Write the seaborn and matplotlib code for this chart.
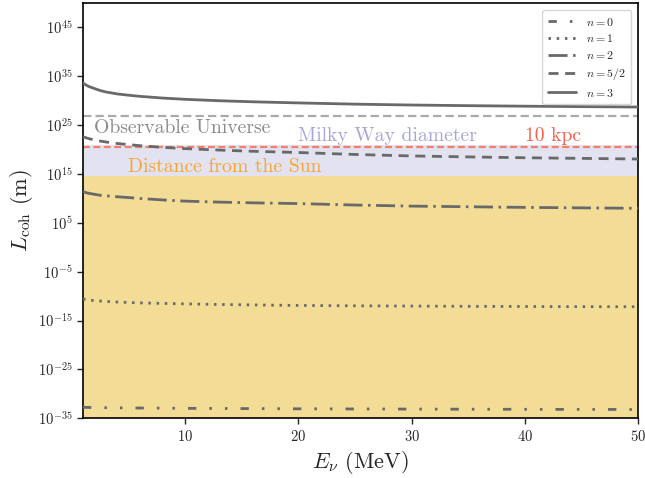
import numpy as np
import pandas as pd
import matplotlib
matplotlib.use("Agg")
import matplotlib.pyplot as plt
import matplotlib.ticker as mticker
import seaborn as sns

# ---- data ----
E_nu = [1, 1.25, 1.5, 2, 2.5, 3, 4, 5, 6, 8, 10, 13, 16, 20, 25, 30, 35, 40, 45, 50]   # MeV
log_L_n0 = [-32.75, -32.76, -32.77, -32.8, -32.81, -32.83, -32.86, -32.88, -32.9, -32.93, -32.96,
            -32.99, -33.02, -33.06, -33.09, -33.12, -33.14, -33.16, -33.18, -33.2]
log_L_n1 = [-10.6, -10.7, -10.8, -10.9, -11.0, -11.07, -11.2, -11.3, -11.38, -11.48, -11.58,
            -11.7, -11.8, -11.9, -11.98, -12.03, -12.08, -12.12, -12.15, -12.17]
log_L_n2 = [11.4, 11.2, 11.05, 10.85, 10.65, 10.55, 10.35, 10.18, 10.0, 9.7, 9.45,
            9.25, 9.1, 8.95, 8.65, 8.43, 8.3, 8.17, 8.07, 7.98]
log_L_n52 = [22.63, 22.43, 22.25, 21.97, 21.75, 21.56, 21.25, 21.03, 20.8, 20.46, 20.2,
             19.9, 19.65, 19.4, 19.0, 18.7, 18.5, 18.33, 18.2, 18.07]
log_L_n3 = [33.62, 33.24, 32.93, 32.5, 32.1, 31.8, 31.4, 31.13, 30.9, 30.55, 30.29,
            30.0, 29.78, 29.55, 29.3, 29.12, 28.99, 28.88, 28.79, 28.71]
series_labels = [r"$n=0$", r"$n=1$", r"$n=2$", r"$n=5/2$", r"$n=3$"]

L_observable = 8.8e26     # m
L_milky_way = 9.5e20      # m
L_10kpc = 3.086e20        # m
L_sun_region = 4e14       # m
y_ticks = [1e-35, 1e-25, 1e-15, 1e-5, 1e5, 1e15, 1e25, 1e35, 1e45]
x_ticks = [10, 20, 30, 40, 50]

# ---- style ----
sns.set_style("ticks")
plt.rcParams["font.family"] = ["cmr10", "DejaVu Serif"]
plt.rcParams["mathtext.fontset"] = "cm"
plt.rcParams["axes.formatter.use_mathtext"] = True
plt.rcParams["lines.scale_dashes"] = False

fig = plt.figure(figsize=(6.45, 4.78), dpi=100)
ax = fig.add_axes([0.1287, 0.1249, 0.9898 - 0.1287, 0.9937 - 0.1249])

xlo, xhi = 1, 50
# bands
ax.fill_between([xlo, xhi], 1e-35, L_sun_region, color="#f2dc96", lw=0, zorder=0)
ax.fill_between([xlo, xhi], L_sun_region, L_milky_way, color="#e2e2f0", lw=0, zorder=0)
ax.axhline(L_observable, color="#aaaaaa", lw=1.6, linestyle=(0, (6, 3)), zorder=1)
ax.axhline(L_10kpc, color="#f4806c", lw=1.6, linestyle=(0, (5, 2.5)), zorder=1)

gray = "#696969"
styles = [
    (0, (6, 9.4, 1.8, 9.4, 1.8, 9.4)),
    (0, (1.8, 4.1)),
    (0, (13.7, 4, 1.8, 4)),
    (0, (7.2, 4.8)),
    "-",
]
all_series = [log_L_n0, log_L_n1, log_L_n2, log_L_n52, log_L_n3]
for vals, lab, ls in zip(all_series, series_labels, styles):
    df = pd.DataFrame({"E": E_nu, "L": np.power(10.0, vals)})
    sns.lineplot(data=df, x="E", y="L", ax=ax, color=gray, lw=2.0,
                 linestyle=ls, label=lab, zorder=3)

ax.set_yscale("log")
ax.set_xlim(xlo, xhi)
ax.set_ylim(1e-35, 1e50)
ax.set_yticks(y_ticks)
ax.yaxis.set_minor_locator(mticker.NullLocator())
ax.set_xticks(x_ticks)
ax.tick_params(axis="both", labelsize=10.5, length=4, width=1, direction="out")

ax.set_xlabel(r"$E_\nu$ (MeV)", fontsize=16, labelpad=4)
ax.set_ylabel(r"$L_{\rm coh}$ (m)", fontsize=16, labelpad=2)

for s in ax.spines.values():
    s.set_color("black")
    s.set_linewidth(1.2)

# annotations
fs = 14.2
ax.text(2, 10**23.33, "Observable Universe", color="#8a8a8a", fontsize=fs, va="baseline")
ax.text(20, 10**21.75, "Milky Way diameter", color="#a6a6da", fontsize=fs, va="baseline")
ax.text(40, 10**21.75, "10 kpc", color="#f4604c", fontsize=fs, va="baseline")
ax.text(5, 10**15.35, "Distance from the Sun", color="#f8a630", fontsize=fs, va="baseline")

leg = ax.legend(loc="upper right", fontsize=8.6, handlelength=2.4, frameon=True,
                borderpad=0.45, labelspacing=0.4, borderaxespad=0.6)
leg.get_frame().set_edgecolor("#cccccc")

fig.savefig("out.png", dpi=100)
